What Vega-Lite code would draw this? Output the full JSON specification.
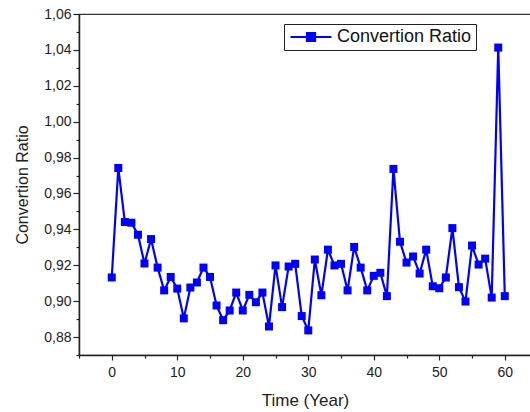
{
  "$schema": "https://vega.github.io/schema/vega-lite/v6.json",
  "autosize": "none",
  "padding": {"left": 79, "top": 14, "right": 0, "bottom": 57},
  "width": 452,
  "height": 341,
  "background": "white",
  "config": {
    "font": "Liberation Sans",
    "view": {"stroke": "#333333", "strokeWidth": 1.2},
    "axis": {
      "domainColor": "#222222",
      "domainWidth": 1.5,
      "tickColor": "#222222",
      "tickWidth": 1.2,
      "labelColor": "#222222",
      "titleColor": "#222222",
      "labelFont": "Liberation Sans",
      "titleFont": "Liberation Sans",
      "titleFontWeight": "normal",
      "labelOverlap": false,
      "grid": false
    }
  },
  "data": {
    "values": [
      {"t": 0, "r": 0.9132}, {"t": 1, "r": 0.9742}, {"t": 2, "r": 0.9441}, {"t": 3, "r": 0.9437},
      {"t": 4, "r": 0.937}, {"t": 5, "r": 0.921}, {"t": 6, "r": 0.9346}, {"t": 7, "r": 0.9187},
      {"t": 8, "r": 0.906}, {"t": 9, "r": 0.9135}, {"t": 10, "r": 0.907}, {"t": 11, "r": 0.8904},
      {"t": 12, "r": 0.9076}, {"t": 13, "r": 0.9104}, {"t": 14, "r": 0.9187}, {"t": 15, "r": 0.9135},
      {"t": 16, "r": 0.8976}, {"t": 17, "r": 0.8894}, {"t": 18, "r": 0.8948}, {"t": 19, "r": 0.9048},
      {"t": 20, "r": 0.8948}, {"t": 21, "r": 0.9035}, {"t": 22, "r": 0.8994}, {"t": 23, "r": 0.9048},
      {"t": 24, "r": 0.8859}, {"t": 25, "r": 0.9199}, {"t": 26, "r": 0.8967}, {"t": 27, "r": 0.9193},
      {"t": 28, "r": 0.9208}, {"t": 29, "r": 0.8917}, {"t": 30, "r": 0.8837}, {"t": 31, "r": 0.9232},
      {"t": 32, "r": 0.9033}, {"t": 33, "r": 0.9287}, {"t": 34, "r": 0.9199}, {"t": 35, "r": 0.9208},
      {"t": 36, "r": 0.906}, {"t": 37, "r": 0.9302}, {"t": 38, "r": 0.9187}, {"t": 39, "r": 0.906},
      {"t": 40, "r": 0.9141}, {"t": 41, "r": 0.9158}, {"t": 42, "r": 0.9028}, {"t": 43, "r": 0.9737},
      {"t": 44, "r": 0.9331}, {"t": 45, "r": 0.9215}, {"t": 46, "r": 0.9249}, {"t": 47, "r": 0.9154},
      {"t": 48, "r": 0.9287}, {"t": 49, "r": 0.9083}, {"t": 50, "r": 0.9072}, {"t": 51, "r": 0.9132},
      {"t": 52, "r": 0.9407}, {"t": 53, "r": 0.9078}, {"t": 54, "r": 0.8998}, {"t": 55, "r": 0.931},
      {"t": 56, "r": 0.9204}, {"t": 57, "r": 0.9237}, {"t": 58, "r": 0.902}, {"t": 59, "r": 1.0413},
      {"t": 60, "r": 0.9028}
    ]
  },
  "layer": [
    {
      "mark": {"type": "line", "strokeWidth": 2.2, "color": "#0000FF"},
      "encoding": {
        "x": {
          "field": "t", "type": "quantitative",
          "scale": {"domain": [-5, 64], "nice": false, "zero": false},
          "axis": {
            "orient": "bottom",
            "title": "Time (Year)", "titleFontSize": 17, "titlePadding": 13,
            "values": [0, 10, 20, 30, 40, 50, 60],
            "labelFontSize": 14, "tickSize": 5, "labelPadding": 5, "format": "d"
          }
        },
        "y": {
          "field": "r", "type": "quantitative",
          "scale": {"domain": [0.87, 1.06], "nice": false, "zero": false},
          "axis": {
            "orient": "left",
            "title": "Convertion Ratio", "titleFontSize": 16, "titlePadding": 13,
            "values": [0.88, 0.9, 0.92, 0.94, 0.96, 0.98, 1.0, 1.02, 1.04, 1.06],
            "labelExpr": "replace(format(datum.value, '.2f'), '.', ',')",
            "labelFontSize": 14, "tickSize": 6, "labelPadding": 2
          }
        },
        "color": {
          "datum": "Convertion Ratio",
          "scale": {"range": ["#0000FF"]},
          "legend": {
            "title": null,
            "orient": "none",
            "legendX": 205,
            "legendY": 10,
            "strokeColor": "#222222",
            "fillColor": "white",
            "padding": 4,
            "labelFontSize": 18,
            "labelFont": "Liberation Sans",
            "labelColor": "#111111",
            "symbolType": "M-4,0H4M-0.8,-0.8H0.8V0.8H-0.8Z",
            "symbolSize": 105,
            "symbolOffset": 14,
            "labelOffset": 17,
            "symbolStrokeWidth": 2,
            "symbolFillColor": "#0000FF",
            "symbolStrokeColor": "#0000FF"
          }
        }
      }
    },
    {
      "mark": {"type": "square", "size": 64, "color": "#0000FF", "opacity": 1, "filled": true},
      "encoding": {
        "x": {
          "field": "t", "type": "quantitative",
          "axis": {"orient": "bottom", "values": [-5, 5, 15, 25, 35, 45, 55], "labels": false, "title": null, "tickSize": 3, "domain": false}
        },
        "y": {
          "field": "r", "type": "quantitative",
          "axis": {"orient": "left", "values": [0.87, 0.89, 0.91, 0.93, 0.95, 0.97, 0.99, 1.01, 1.03, 1.05], "labels": false, "title": null, "tickSize": 3, "domain": false}
        }
      }
    }
  ],
  "resolve": {"axis": {"x": "independent", "y": "independent"}}
}
